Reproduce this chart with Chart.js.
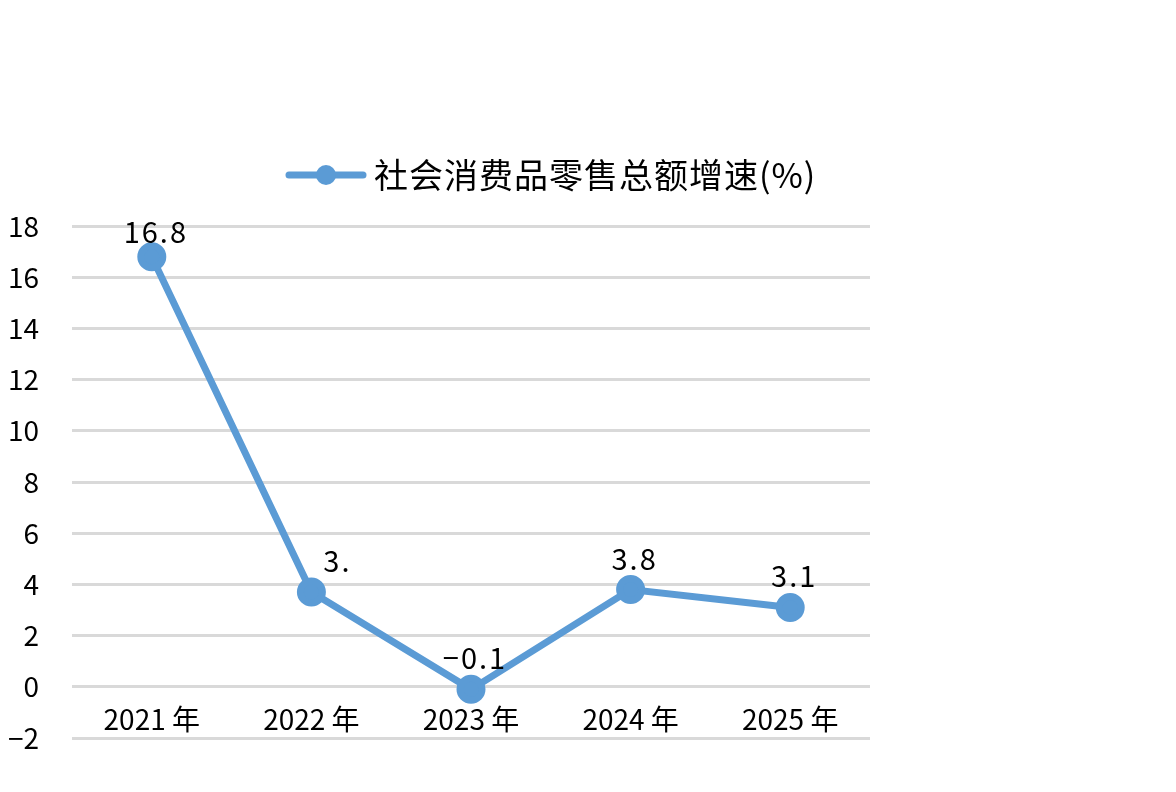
<!DOCTYPE html>
<html>
<head>
<meta charset="utf-8">
<script src="https://cdn.jsdelivr.net/npm/chart.js@4/dist/chart.umd.min.js"></script>
<style>
  html, body { margin: 0; padding: 0; background: #fff; }
  #wrap { width: 1176px; height: 792px; }
</style>
</head>
<body>
<div id="wrap"><canvas id="c" width="1176" height="792"></canvas></div>
<script>
// 数据
const years = ['2021 年', '2022 年', '2023 年', '2024 年', '2025 年'];
const growth = [16.8, 3.7, -0.1, 3.8, 3.1];
const pointLabels = ['16.8', '3.', '−0.1', '3.8', '3.1'];
const seriesName = '社会消费品零售总额增速(%)';
const yTicks = [-2, 0, 2, 4, 6, 8, 10, 12, 14, 16, 18];

const blue = '#5b9bd5';
const fontFamily = '"Noto Sans CJK SC", "Noto Sans", sans-serif';

// 数据标签 + 图例（手绘）
const labelsPlugin = {
    id: 'labelsPlugin',
    afterDatasetsDraw(chart) {
        const ctx = chart.ctx;
        const meta = chart.getDatasetMeta(0);
        ctx.save();
        ctx.fillStyle = '#000';
        ctx.font = '29px ' + fontFamily;
        ctx.letterSpacing = '2px';
        ctx.textAlign = 'center';
        ctx.textBaseline = 'middle';
        meta.data.forEach((pt, i) => {
            const dy = i === 0 ? 25 : 31;
            const dx = i === 1 ? 26 : 4;
            ctx.fillText(pointLabels[i], pt.x + dx, pt.y - dy);
        });

        // 图例
        const ly = 175;
        ctx.letterSpacing = '1px';
        ctx.strokeStyle = blue;
        ctx.lineWidth = 7;
        ctx.lineCap = 'round';
        ctx.beginPath();
        ctx.moveTo(289, ly);
        ctx.lineTo(363, ly);
        ctx.stroke();
        ctx.fillStyle = blue;
        ctx.beginPath();
        ctx.arc(326, ly, 10, 0, Math.PI * 2);
        ctx.fill();
        ctx.fillStyle = '#000';
        ctx.font = '34px ' + fontFamily;
        ctx.textAlign = 'left';
        ctx.fillText(seriesName, 374, ly);
        ctx.restore();
    }
};

new Chart(document.getElementById('c'), {
    type: 'line',
    data: {
        labels: years,
        datasets: [{
            label: seriesName,
            data: growth,
            borderColor: blue,
            backgroundColor: blue,
            borderWidth: 7,
            tension: 0,
            pointRadius: 11,
            pointHoverRadius: 11,
            pointBackgroundColor: blue,
            pointBorderColor: blue
        }]
    },
    options: {
        responsive: false,
        animation: false,
        layout: { padding: { top: 226, right: 306, bottom: 54, left: 0 } },
        plugins: {
            legend: { display: false },
            tooltip: { enabled: false }
        },
        scales: {
            x: {
                offset: true,
                position: { y: 0 },
                grid: { display: false },
                border: { display: false },
                ticks: {
                    color: '#000',
                    padding: 8,
                    font: { size: 28, family: fontFamily }
                }
            },
            y: {
                min: -2,
                max: 18,
                afterBuildTicks(axis) { axis.ticks = yTicks.map(v => ({ value: v })); },
                afterFit(axis) { axis.width = 72; },
                grid: { color: '#d9d9d9', lineWidth: 3, drawTicks: false },
                border: { display: false },
                ticks: {
                    color: '#000',
                    padding: 33,
                    crossAlign: 'near',
                    font: { size: 28, family: fontFamily },
                    callback: v => String(v).replace('-', '−')
                }
            }
        }
    },
    plugins: [labelsPlugin]
});
</script>
</body>
</html>
